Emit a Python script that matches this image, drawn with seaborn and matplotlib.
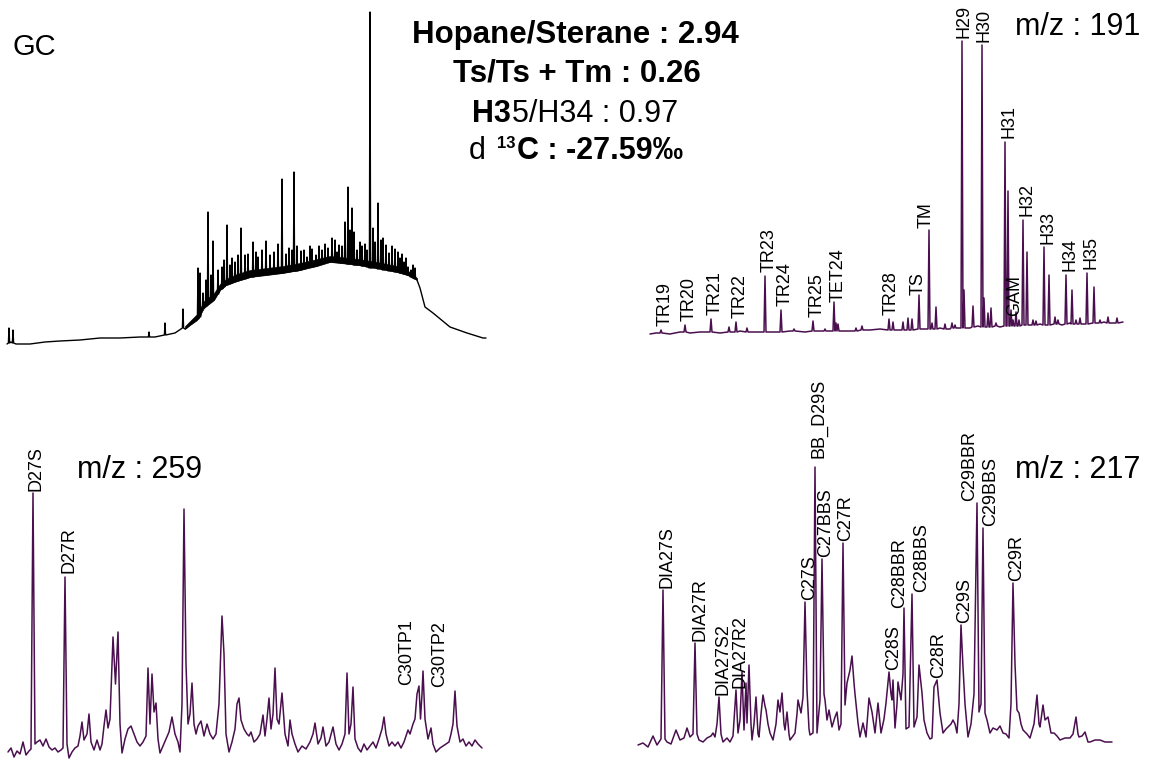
import numpy as np
import pandas as pd
import seaborn as sns
import matplotlib
matplotlib.use("Agg")
import matplotlib.pyplot as plt
from matplotlib.transforms import IdentityTransform

W, H = 1149, 764
PURPLE = "#4a0f4e"

################################################################################
# GC trace (TIC) -- scan index vs abundance
gc_flat_x = [7, 11, 16, 30, 45, 60, 80, 100, 120, 140, 155, 175]
gc_flat_y = [6, 8, 6, 6, 8, 9, 10, 12, 12, 13, 13, 17]
gc_hump_x  = [185, 190, 197, 204, 214, 220, 226, 237, 250, 267, 283, 300, 317, 330, 340, 358, 377, 397, 410, 417]
gc_hump_lo = [21, 25, 30, 42, 50, 60, 65, 69, 73, 75, 77, 80, 84, 88, 87, 85, 82, 78, 74, 70]
gc_hump_hi = [24, 29, 36, 49, 57, 66, 71, 76, 80, 82, 84, 87, 91, 94, 93, 91, 88, 84, 78, 72]
gc_tail_x = [420, 425, 433, 450, 467, 483, 486]
gc_tail_y = [62, 43, 37, 23, 17, 12, 12]
gc_peak_x = [9, 13, 149, 165, 183, 198, 200, 203, 206, 208, 211, 213, 218, 222, 224, 227, 230, 232,
             235, 238, 241, 245, 248, 253, 256, 258, 262, 266, 270, 274, 278, 282, 286, 289, 292,
             294, 297, 301, 304, 307, 310, 312, 316, 319, 322, 325, 328, 332, 335, 337, 339, 342,
             345, 348, 350, 352, 354, 357, 360, 362, 365, 367, 370, 373, 375, 378, 381, 383, 386,
             389, 392, 395, 398, 400, 402, 404, 406, 408, 411, 413, 415]
gc_peak_foot = [7, 7, 13, 15, 22, 31, 33, 42, 44, 46, 48, 50, 56, 61, 63, 65, 66, 67,
                68, 69, 70, 71, 72, 73, 74, 74, 75, 75, 76, 76, 77, 77, 78, 78, 79,
                79, 79, 80, 81, 82, 83, 83, 84, 85, 86, 87, 88, 88, 88, 88, 88, 87,
                87, 86, 86, 86, 85, 85, 85, 84, 84, 83, 82, 82, 82, 81, 81, 80, 80,
                79, 79, 78, 78, 77, 77, 76, 76, 75, 73, 72, 71]
gc_peak_top = [22, 20, 18, 27, 41, 82, 77, 57, 70, 138, 75, 109, 80, 83, 90, 125, 85, 92,
               88, 95, 122, 95, 96, 108, 98, 93, 100, 109, 95, 98, 106, 171, 96, 102, 100,
               178, 104, 99, 100, 93, 104, 101, 95, 104, 100, 106, 102, 112, 110, 98, 105, 104,
               128, 163, 120, 142, 118, 100, 108, 104, 106, 100, 338, 122, 108, 147, 110, 112, 105,
               97, 104, 101, 98, 92, 96, 88, 92, 83, 80, 85, 82]

# m/z 191
ms191_base_x = [650, 656, 670, 680, 690, 700, 720, 740, 755, 770, 790, 805, 820, 845, 870, 880,
                900, 925, 940, 950, 970, 978, 1000, 1030, 1040, 1062, 1070, 1084, 1104, 1112, 1123]
ms191_base_y = [16, 17, 16, 18, 17, 18, 17, 19, 18, 18, 19, 18, 19, 19, 20, 21,
                20, 21, 22, 21, 22, 24, 23, 25, 26, 25, 27, 26, 28, 27, 28]
ms191_peak_x = [661, 685, 711, 729, 736, 747, 765, 781, 794, 813, 825, 834, 836, 838, 856, 862,
                889, 893, 903, 908, 912, 919, 929, 932, 936, 945, 952, 955, 962, 964, 973, 982,
                984, 988, 991, 996, 1005, 1008, 1011, 1013, 1016, 1019, 1023, 1027, 1033, 1036,
                1044, 1049, 1055, 1058, 1066, 1072, 1076, 1080, 1087, 1094, 1100, 1108, 1117]
ms191_peak_foot = [17, 18, 18, 18, 18, 18, 18, 18, 19, 19, 19, 19, 19, 19, 19, 20,
                   20, 20, 20, 20, 20, 21, 21, 21, 21, 21, 22, 22, 22, 22, 23, 23,
                   23, 23, 23, 24, 24, 24, 24, 24, 24, 24, 25, 25, 25, 25,
                   25, 25, 26, 26, 26, 26, 26, 26, 26, 27, 27, 27, 27]
ms191_peak_top = [20, 25, 31, 23, 28, 22, 74, 40, 21, 29, 21, 48, 27, 26, 22, 24,
                  31, 28, 28, 32, 31, 55, 120, 27, 43, 26, 27, 25, 309, 60, 44, 305,
                  52, 37, 42, 27, 208, 159, 40, 30, 38, 30, 130, 98, 30, 29,
                  103, 75, 33, 30, 75, 60, 30, 32, 77, 63, 30, 33, 32]
ms191_labels = {"TR19": 661, "TR20": 685, "TR21": 711, "TR22": 736, "TR23": 765, "TR24": 781,
                "TR25": 813, "TET24": 834, "TR28": 889, "TS": 919, "TM": 929, "H29": 962,
                "H30": 982, "H31": 1005, "GAM": 1013, "H32": 1023, "H33": 1044, "H34": 1066,
                "H35": 1087}

# m/z 259
ms259_x = [8, 11, 14, 17, 20, 23, 26, 29, 31, 33, 35, 37, 40, 43, 46, 49, 52, 55, 58, 61, 63, 65, 67,
           69, 72, 75, 78, 80, 82, 84, 87, 89, 91, 94, 97, 100, 102, 104, 106, 108, 110, 112, 113,
           115.5, 118, 120, 122, 125, 128, 131, 134, 137, 140, 143, 146, 148, 150, 152, 154, 156,
           158, 160, 163, 166, 169, 172, 175, 178, 180, 182, 184, 186, 188, 190, 192, 194, 196,
           198, 201, 204, 207, 210, 213, 216, 219, 222, 224, 226, 229, 232, 235, 237, 239, 241,
           244, 247, 249, 251, 254, 257, 260, 263, 265, 267, 269, 271, 273, 275, 277, 279, 282,
           285, 288, 290, 292, 295, 298, 302, 306, 310, 313, 315, 318, 321, 323, 326, 329, 333,
           336, 339, 342, 345, 347, 349, 351, 353, 355, 358, 361, 364, 367, 370, 373, 376, 379,
           382, 384, 386, 389, 392, 395, 398, 401, 404, 406, 408, 410, 413, 415, 417, 419, 420.5,
           422, 423, 425, 428, 431, 433, 436, 440, 443, 446, 449, 451, 453, 455, 457, 460, 463,
           466, 469, 472, 475, 478, 482]
ms259_y = [12, 16, 7, 13, 10, 22, 9, 13, 15, 271, 20, 22, 24, 18, 25, 17, 14, 16, 12, 14, 16, 187, 20,
           6, 12, 16, 18, 28, 42, 24, 30, 50, 22, 14, 24, 14, 20, 38, 54, 36, 45, 100, 127,
           80, 132, 40, 11, 25, 35, 38, 30, 22, 18, 22, 28, 96, 40, 90, 52, 61,
           25, 11, 18, 25, 32, 47, 30, 22, 12, 60, 255, 100, 40, 50, 81, 40, 30,
           38, 43, 28, 40, 30, 25, 30, 60, 148, 110, 30, 12, 22, 35, 60, 66, 44,
           35, 30, 28, 32, 22, 25, 30, 49, 28, 45, 66, 35, 50, 96, 45, 40, 71,
           30, 18, 44, 30, 20, 12, 18, 15, 22, 30, 41, 20, 26, 37, 18, 22, 37,
           20, 14, 20, 30, 91, 30, 40, 77, 25, 16, 12, 20, 14, 18, 22, 16, 25,
           35, 47, 30, 18, 22, 18, 22, 16, 22, 28, 34, 30, 40, 45, 70, 78, 45,
           70, 93, 45, 25, 36, 20, 12, 16, 18, 20, 22, 30, 40, 73, 38, 22, 25,
           18, 22, 18, 24, 20, 16]
ms259_labels = {"D27S": 33, "D27R": 65, "C30TP1": 419, "C30TP2": 455}

# m/z 217
ms217_x = [638, 643, 648, 653, 657, 661, 663, 665, 667, 671, 676, 680, 684, 687, 690, 693, 695, 697,
           699, 703, 707, 711, 713, 715, 717, 719, 721, 723, 727, 730, 733, 736, 738, 740, 742,
           744, 746, 747, 749, 751, 752, 754, 756, 758, 759, 761, 763, 765, 766, 768, 770, 773,
           776, 778, 780, 782, 784, 785, 787, 789, 790, 793, 795, 797, 798, 801, 803, 805, 807,
           809, 810, 813, 815, 817, 820, 822, 824, 825, 827, 829, 832, 835, 837, 839, 841, 843,
           845, 847, 850, 852, 854, 855, 858, 860, 863, 866, 869, 872, 875, 878, 881, 884, 886,
           889, 891, 892, 893, 895, 897, 898, 901, 903, 904, 906, 909, 912, 914, 917, 919, 922,
           924, 927, 930, 932, 934, 937, 940, 943, 946, 948, 951, 953, 955, 957, 959, 961, 963,
           965, 968, 971, 974, 977, 979, 981, 983, 985, 987, 990, 993, 997, 1000, 1003, 1006,
           1009, 1011, 1013, 1015, 1017, 1019, 1021, 1023, 1027, 1030, 1034, 1037, 1039, 1040,
           1043, 1045, 1048, 1051, 1054, 1057, 1060, 1065, 1070, 1073, 1076, 1078, 1079, 1082,
           1085, 1088, 1090, 1095, 1100, 1105, 1112]
ms217_y = [19, 21, 17, 28, 19, 25, 174, 25, 22, 20, 34, 24, 26, 36, 27, 30, 121, 30,
           24, 22, 26, 28, 31, 27, 40, 67, 30, 22, 26, 22, 28, 74, 31, 44, 92,
           34, 81, 41, 99, 40, 24, 40, 67, 30, 27, 50, 69, 58, 54, 40, 31, 24,
           40, 64, 52, 71, 40, 34, 52, 30, 24, 28, 31, 50, 64, 51, 67, 162, 74,
           35, 29, 31, 297, 31, 64, 205, 70, 64, 44, 54, 37, 47, 52, 34, 40, 221,
           59, 81, 94, 108, 81, 70, 41, 27, 41, 27, 66, 52, 31, 61, 31, 45, 61,
           92, 70, 64, 84, 36, 60, 82, 64, 90, 156, 35, 37, 170, 37, 47, 99, 71,
           44, 31, 25, 26, 77, 84, 51, 31, 35, 37, 40, 44, 40, 31, 60, 139, 97,
           60, 27, 40, 70, 261, 52, 60, 236, 51, 44, 31, 36, 34, 38, 31, 30,
           26, 60, 181, 100, 54, 51, 40, 34, 30, 26, 40, 69, 40, 37,
           59, 44, 47, 31, 31, 28, 24, 26, 26, 30, 47, 30, 27, 28,
           32, 22, 22, 24, 24, 22, 22]
ms217_labels = {"DIA27S": 663, "DIA27R": 695, "DIA27S2": 719, "DIA27R2": 736, "C27S": 805,
                "BB_D29S": 815, "C27BBS": 822, "C27R": 843, "C28S": 889, "C28BBR": 904,
                "C28BBS": 912, "C28R": 937, "C29S": 961, "C29BBR": 977, "C29BBS": 983,
                "C29R": 1013}

################################################################################
sns.set_theme(style="white")
plt.rcParams['font.family'] = ['Liberation Sans', 'DejaVu Sans']
plt.rcParams['text.color'] = 'black'

fig = plt.figure(figsize=(W / 100, H / 100), dpi=100)


def panel(x0, y0, x1, y1):
    ax = fig.add_axes([x0 / W, 1 - y1 / H, (x1 - x0) / W, (y1 - y0) / H])
    ax.set_xlim(x0, x1)
    ax.set_ylim(0, y1 - y0)
    ax.axis('off')
    return ax


def with_peaks(bx, by, px, pf, pt, hw):
    xs, ys = list(bx), list(by)
    for x, f, t in zip(px, pf, pt):
        xs += [x - hw, x, x + hw]
        ys += [f, t, f]
    order = np.argsort(xs, kind="stable")
    return pd.DataFrame({"rt": np.array(xs)[order], "abund": np.array(ys)[order]})


def draw(ax, df, color, lw):
    sns.lineplot(data=df, x="rt", y="abund", ax=ax, estimator=None, sort=False,
                 color=color, lw=lw)
    ax.set_xlabel("")
    ax.set_ylabel("")


def tag(ax, names, xs, ys, dx=None, gap=None, d_dx=4, d_gap=3):
    dx = dx or {}
    gap = gap or {}
    for name, px in names.items():
        top = ys[list(xs).index(px)]
        ax.text(px + dx.get(name, d_dx), top + gap.get(name, d_gap), name, rotation=90,
                ha="center", va="bottom", fontsize=13, color="black")


# GC
ax_gc = panel(0, 0, 490, 350)
gc_df = with_peaks(gc_flat_x + gc_hump_x + gc_tail_x, gc_flat_y + gc_hump_lo + gc_tail_y,
                   gc_peak_x, gc_peak_foot, gc_peak_top, 0.6)
ax_gc.fill_between(gc_hump_x, gc_hump_lo, gc_hump_hi, color="black", lw=0.4)
draw(ax_gc, gc_df, "black", 1.0)
ax_gc.text(12, 295, "GC", fontsize=21, va="baseline", color="black")

# m/z 191
ax191 = panel(640, 0, 1149, 350)
df191 = with_peaks(ms191_base_x, ms191_base_y, ms191_peak_x, ms191_peak_foot, ms191_peak_top, 1.0)
draw(ax191, df191, PURPLE, 1.1)
tag(ax191, ms191_labels, ms191_peak_x, ms191_peak_top,
    dx={"TS": -1, "TM": -3, "H29": 2.5, "H30": 2.5, "TR28": 2.5, "GAM": 2},
    gap={"TET24": 0, "TS": 0, "TM": 2}, d_gap=3.5)
ax191.text(1015, 315, "m/z : 191", fontsize=22, va="baseline", color="black")

# m/z 259
ax259 = panel(0, 440, 490, 764)
draw(ax259, pd.DataFrame({"rt": ms259_x, "abund": ms259_y}), PURPLE, 1.1)
tag(ax259, ms259_labels, ms259_x, ms259_y,
    dx={"D27S": 2.5, "C30TP1": -12, "C30TP2": -15},
    gap={"D27R": 4, "C30TP1": 1, "C30TP2": 4}, d_gap=2)
ax259.text(77, 286, "m/z : 259", fontsize=22, va="baseline", color="black")

# m/z 217
ax217 = panel(630, 400, 1149, 764)
draw(ax217, pd.DataFrame({"rt": ms217_x, "abund": ms217_y}), PURPLE, 1.1)
tag(ax217, ms217_labels, ms217_x, ms217_y,
    dx={"C28BBR": -4, "C28BBS": 10, "C29BBR": -7, "C29BBS": 8, "DIA27R": 5, "C27S": 5,
        "C28S": 5, "C27R": 3, "C28R": 2},
    gap={"BB_D29S": 9, "C28BBR": 0}, d_gap=2)
ax217.text(1015, 286, "m/z : 217", fontsize=22, va="baseline", color="black")

# ratio block in the middle (mixed bold / regular runs)
renderer = fig.canvas.get_renderer()


def rich_line(parts, xc, ybase):
    items = []
    for s, weight, size, rise, gap in parts:
        t = fig.text(0, 0, s, fontsize=size, fontweight=weight, va="baseline",
                     transform=IdentityTransform(), color="black")
        items.append((t, t.get_window_extent(renderer).width, rise, gap))
    total = sum(w + g for _, w, _, g in items)
    x = xc - total / 2
    for t, w, rise, gap in items:
        x += gap
        t.set_position((x, H - ybase + rise))
        x += w


rich_line([("Hopane/Sterane : 2.94", "bold", 22.5, 0, 0)], 575, 43)
rich_line([("Ts/Ts + Tm : 0.26", "bold", 22.5, 0, 0)], 577, 82)
rich_line([("H3", "bold", 22, 0, 0), ("5/H34 : 0.97", "normal", 22, 0, 1.5)], 575, 122)
rich_line([("d", "normal", 22, 0, 0), ("13", "bold", 12, 11, 11),
           ("C : -27.59\u2030", "bold", 22, 0, 1)], 576, 159)

fig.savefig("out.png", dpi=100)
